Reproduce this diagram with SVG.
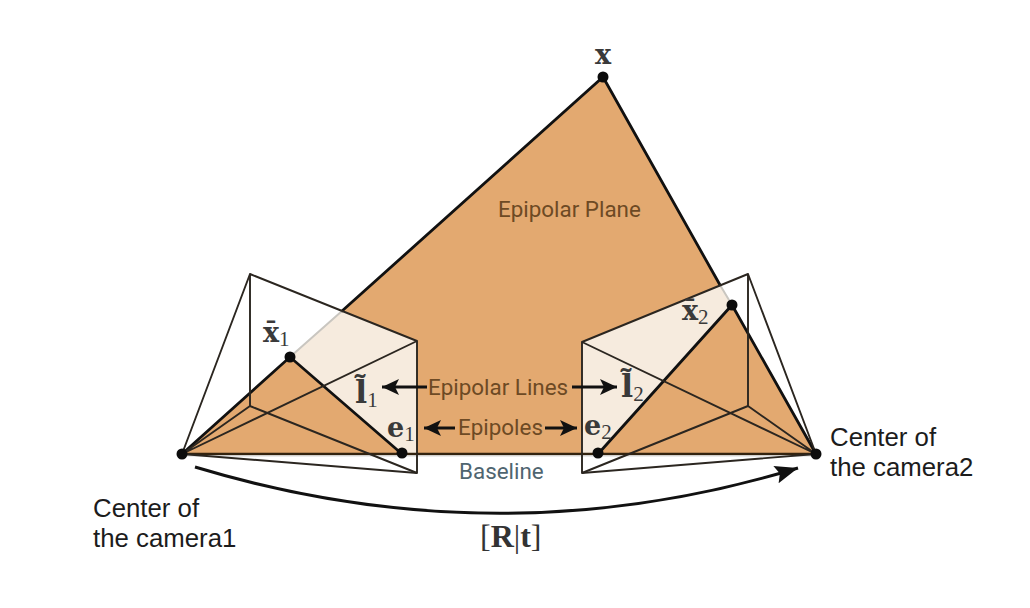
<svg xmlns="http://www.w3.org/2000/svg" width="1030" height="608" viewBox="0 0 1030 608">
<style>
.wire{fill:none;stroke:#2b2620;stroke-width:1.9;stroke-linejoin:round}
.bold{fill:none;stroke:#111;stroke-width:2.8;stroke-linecap:round}
.arr{fill:none;stroke:#111;stroke-width:3}
.lab{font-family:Roboto,"Liberation Sans",sans-serif;font-size:22.4px;fill:#6d4a24}
.blk{font-family:"Liberation Sans",Arial,sans-serif;font-size:25.8px;fill:#1c1c1c}
.m{font-family:"DejaVu Serif",serif;font-size:27px;font-weight:bold;fill:#3a3a3a}
.l{font-size:32px}
.s{font-family:"Liberation Serif",serif;font-size:21px;font-weight:normal}
.pt{fill:#0c0c0c}
</style>
<defs>
<marker id="ah" markerUnits="userSpaceOnUse" markerWidth="20" markerHeight="18" refX="17" refY="8" orient="auto"><path d="M0 0L17 8L0 16L4 8Z" fill="#111"/></marker>
<marker id="big" markerUnits="userSpaceOnUse" markerWidth="26" markerHeight="20" refX="23" refY="9" orient="auto"><path d="M0 0L23 9L0 18L4 9Z" fill="#111"/></marker>
</defs>
<rect width="1030" height="608" fill="#fff"/>
<g id="epipolar-plane">
<path d="M603 77L816 454L182 454Z" fill="#e3a970"/>
<path d="M290 357L342 311L417 341L417 454L402 454Z" fill="#f6ebde"/>
<path d="M732 305L720 285L582 342L582 454L598 454Z" fill="#f6ebde"/>
</g>
<g id="connectors">
<path class="bold" d="M342 311L603 77L720 285"/>
<path d="M290 357L342 311M732 305L720 285" fill="none" stroke="#c9c6c0" stroke-width="2"/>
<path class="bold" d="M182 454L290 357L402 454"/>
<path class="bold" d="M598 454L732 305L816 454"/>
<path d="M182 454H816" fill="none" stroke="#33230f" stroke-width="2.4"/>
<path d="M182 456H816" fill="none" stroke="#d8d8d8" stroke-width="1"/>
<path class="wire" d="M250 274L417 341L417 473L250 406Z"/>
<path class="wire" d="M182 454L250 274M182 454L250 406M182 454L417 341M182 454L417 473"/>
<path class="wire" d="M748 274L582 342L582 473L748 406Z"/>
<path class="wire" d="M816 454L748 274M816 454L748 406M816 454L582 342M816 454L582 473"/>
<path class="arr" d="M195 467Q500 559 798 468" marker-end="url(#big)"/>
<path class="arr" d="M427 387H382" marker-end="url(#ah)"/>
<path class="arr" d="M572 387H617" marker-end="url(#ah)"/>
<path class="arr" d="M455 428H424" marker-end="url(#ah)"/>
<path class="arr" d="M545 428H577" marker-end="url(#ah)"/>
</g>
<g id="node-x"><circle class="pt" cx="603" cy="77" r="5.5"/><text class="m" x="603" y="64" text-anchor="middle">x</text></g>
<g id="node-x1"><circle class="pt" cx="290" cy="357" r="5.5"/><text class="m" x="263" y="342">x̄<tspan class="s" dy="4">1</tspan></text></g>
<g id="node-x2"><circle class="pt" cx="732" cy="305" r="5.5"/><text class="m" x="682" y="320">x̄<tspan class="s" dy="4">2</tspan></text></g>
<g id="node-e1"><circle class="pt" cx="402" cy="453" r="5.5"/><text class="m" x="387" y="437">e<tspan class="s" dy="4">1</tspan></text></g>
<g id="node-e2"><circle class="pt" cx="598" cy="453" r="5.5"/><text class="m" x="584" y="435">e<tspan class="s" dy="4">2</tspan></text></g>
<g id="node-c1"><circle class="pt" cx="182" cy="454" r="5.5"/><text class="blk" x="93" y="517">Center of</text><text class="blk" x="93" y="547">the camera1</text></g>
<g id="node-c2"><circle class="pt" cx="816" cy="454" r="5.5"/><text class="blk" x="830" y="446">Center of</text><text class="blk" x="830" y="476">the camera2</text></g>
<g id="labels">
<text class="m l" x="355" y="403">l̃<tspan class="s" dy="4">1</tspan></text>
<text class="m l" x="621" y="397">l̃<tspan class="s" dy="4">2</tspan></text>
<text class="lab" x="498" y="217">Epipolar Plane</text>
<text class="lab" x="428" y="395">Epipolar Lines</text>
<text class="lab" x="458" y="435">Epipoles</text>
<text class="lab" x="459" y="479" style="fill:#4f6570">Baseline</text>
<text x="480" y="547" style="font-family:'Liberation Serif',serif;font-size:32px;fill:#333">[<tspan font-weight="bold">R</tspan>|<tspan font-weight="bold">t</tspan>]</text>
</g>
</svg>
